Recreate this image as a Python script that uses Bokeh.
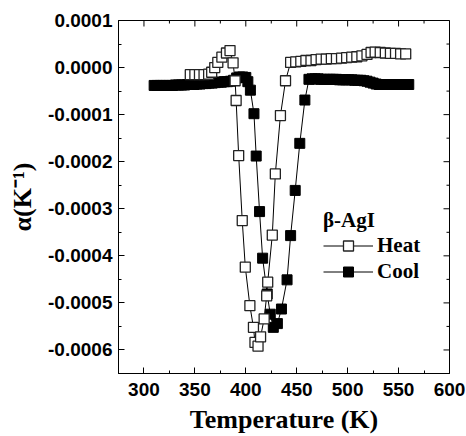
import numpy as np
from bokeh.plotting import figure
from bokeh.models import FixedTicker, PrintfTickFormatter, Legend, LegendItem, Range1d
from bokeh.embed import file_html
from bokeh.resources import INLINE

# ---- data (alpha in units of 1e-4 K^-1) ----
heat_T = [345.5, 350, 354.5, 359, 363.5, 366.5, 369.5, 372.5, 376.5, 381, 384.5,
          387.5, 389.5, 390.5, 393, 396.5, 399.5, 404, 407.5, 409, 412, 414.5,
          418, 420.5, 421.5, 426, 429, 434, 439,
          444, 449, 454, 459, 464, 469, 474, 479, 484, 489, 494, 499, 504, 509,
          514, 519, 523, 527, 532, 537, 542, 547, 552, 557]
heat_a = [-0.15, -0.15, -0.15, -0.15, -0.14, -0.10, 0.00, 0.11, 0.22, 0.31, 0.36,
          0.10, -0.28, -0.70, -1.87, -3.25, -4.24, -5.06, -5.52, -5.84, -5.92, -5.72,
          -5.34, -4.85, -4.56, -3.56, -2.26, -1.02, -0.28,
          0.11, 0.12, 0.13, 0.15, 0.15, 0.17, 0.18, 0.18, 0.19, 0.19, 0.20, 0.21, 0.22, 0.23,
          0.25, 0.28, 0.32, 0.33, 0.32, 0.31, 0.30, 0.30, 0.29, 0.29]

cool_T = [310, 313, 316, 319, 322, 325, 328, 331, 334, 337, 340, 343, 346, 349, 352,
          355, 358, 361, 364, 367, 370, 373, 376, 379, 382, 385, 388, 391, 394, 397,
          400, 402, 404.5, 408, 410.2, 413.5, 416.5, 421, 424, 427, 431, 435, 440.5,
          444, 448.5, 453, 458, 462,
          465, 468, 471, 474, 477, 480, 483, 486, 489, 492, 495, 498, 501, 504, 507,
          510, 513, 516, 519, 522, 525, 528, 531, 534, 537, 540, 543, 546, 549, 552,
          555, 558, 560]
cool_a = [-0.38, -0.38, -0.38, -0.38, -0.38, -0.38, -0.38, -0.37, -0.37, -0.37, -0.37,
          -0.36, -0.36, -0.36, -0.35, -0.35, -0.34, -0.34, -0.33, -0.33, -0.32, -0.31,
          -0.31, -0.30, -0.30, -0.29, -0.27, -0.22, -0.20, -0.20, -0.21, -0.30, -0.48,
          -0.98, -1.88, -3.06, -4.05, -4.81, -5.24, -5.52, -5.44, -5.13, -4.51,
          -3.57, -2.61, -1.61, -0.69, -0.25,
          -0.24, -0.24, -0.24, -0.25, -0.25, -0.25, -0.25, -0.25, -0.25, -0.26, -0.26,
          -0.26, -0.26, -0.26, -0.27, -0.27, -0.27, -0.28, -0.29, -0.31, -0.33, -0.35,
          -0.36, -0.36, -0.36, -0.36, -0.36, -0.36, -0.36, -0.36, -0.36, -0.36, -0.36]

x_ticks = [300, 350, 400, 450, 500, 550, 600]
x_minor = [275, 325, 375, 425, 475, 525, 575]
y_ticks_e4 = [1, 0, -1, -2, -3, -4, -5, -6]
y_minor_e4 = [0.5, -0.5, -1.5, -2.5, -3.5, -4.5, -5.5, -6.5]

X0, X1 = 275, 600
Y0, Y1 = -0.00065, 0.0001

hx = np.array(heat_T); hy = np.array(heat_a) * 1e-4
cx = np.array(cool_T); cy = np.array(cool_a) * 1e-4
yt = [v * 1e-4 for v in y_ticks_e4]
ym = [v * 1e-4 for v in y_minor_e4]

p = figure(width=466, height=436, output_backend="svg", toolbar_location=None,
           x_range=Range1d(X0, X1), y_range=Range1d(Y0, Y1),
           min_border_left=118, min_border_right=17, min_border_top=20,
           min_border_bottom=63)
p.xgrid.visible = False
p.ygrid.visible = False
p.outline_line_color = "black"
p.outline_line_width = 1
p.background_fill_color = "white"
p.border_fill_color = "white"

for ax in (p.xaxis[0], p.yaxis[0]):
    ax.axis_line_color = "black"
    ax.axis_line_width = 1
    ax.major_tick_in = 6
    ax.major_tick_out = 0
    ax.minor_tick_in = 3
    ax.minor_tick_out = 0
    ax.major_tick_line_color = "black"
    ax.minor_tick_line_color = "black"
    ax.major_label_text_font = "Liberation Sans"
    ax.major_label_text_font_style = "bold"
    ax.major_label_text_font_size = "19px"
    ax.major_label_text_color = "black"
    ax.axis_label_text_font = "Liberation Serif"
    ax.axis_label_text_font_style = "bold"
    ax.axis_label_text_color = "black"

p.xaxis.ticker = FixedTicker(ticks=x_ticks, minor_ticks=x_minor)
p.yaxis.ticker = FixedTicker(ticks=yt, minor_ticks=ym)
p.yaxis.formatter = PrintfTickFormatter(format="%.4f")
p.xaxis.major_label_standoff = 9
p.yaxis.major_label_standoff = 6
p.xaxis.axis_label = "Temperature (K)"
p.xaxis.axis_label_text_font_size = "26px"
p.xaxis.axis_label_standoff = 6
p.yaxis.axis_label = "α(K⁻¹)"
p.yaxis.axis_label_text_font_size = "26px"
p.yaxis.axis_label_standoff = 8

# mirrored inward ticks on top and right edges (half of each dash is clipped)
p.scatter(x_ticks, [Y1] * len(x_ticks), marker="dash", angle=np.pi / 2, size=12,
          line_color="black", line_width=1)
p.scatter(x_minor, [Y1] * len(x_minor), marker="dash", angle=np.pi / 2, size=6,
          line_color="black", line_width=1)
p.scatter([X1] * len(yt), yt, marker="dash", size=12, line_color="black", line_width=1)
p.scatter([X1] * len(ym), ym, marker="dash", size=6, line_color="black", line_width=1)

# connecting lines
hl = p.line(hx, hy, line_color="black", line_width=1)
cl = p.line(cx, cy, line_color="black", line_width=1)
# markers
cs = p.scatter(cx, cy, marker="square", size=10, fill_color="black",
               line_color="black", line_width=1)
hs = p.scatter(hx, hy, marker="square", size=10, fill_color="white",
               line_color="#222222", line_width=1.3)

legend = Legend(items=[LegendItem(label="Heat", renderers=[hl, hs]),
                       LegendItem(label="Cool", renderers=[cl, cs])],
                location=(205, 89), title="β-AgI")
legend.title_text_font = "Liberation Serif"
legend.title_text_font_style = "bold"
legend.title_text_font_size = "21px"
legend.title_text_color = "black"
legend.title_standoff = 0
legend.label_text_font = "Liberation Serif"
legend.label_text_font_style = "bold"
legend.label_text_font_size = "21px"
legend.label_text_color = "black"
legend.glyph_width = 50
legend.glyph_height = 25
legend.label_standoff = 4
legend.spacing = 1
legend.padding = 0
legend.margin = 0
legend.border_line_alpha = 0
legend.background_fill_alpha = 0
p.add_layout(legend, "center")

open("out.html", "w").write(file_html(p, INLINE))
